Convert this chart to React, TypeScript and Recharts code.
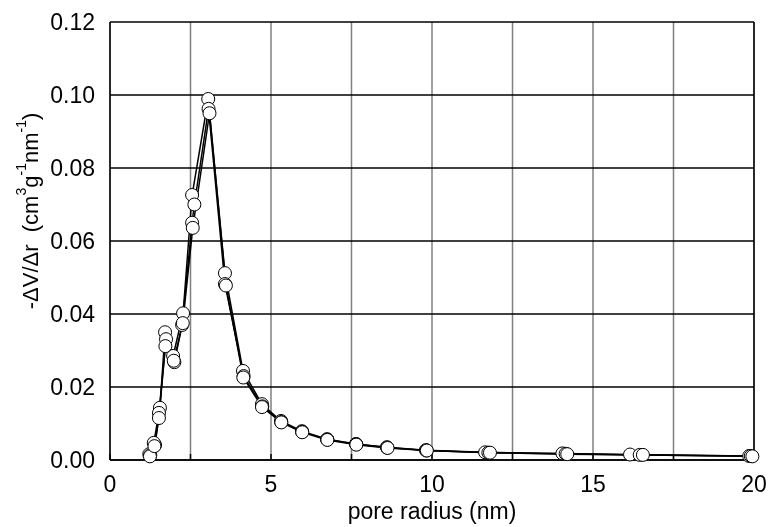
import React from 'react'
import {
  ComposedChart,
  Line,
  XAxis,
  YAxis,
  CartesianGrid,
  ReferenceLine,
} from 'recharts'

// three overlapping measurements of the pore size distribution
const radiusA = [1.22, 1.40, 1.55, 1.71, 1.96, 2.27, 2.55, 3.05, 3.57, 4.13, 4.72, 5.31, 5.96, 6.74, 7.64, 8.60, 9.81, 11.65, 14.05, 16.15, 19.85]
const dvA = [0.0016, 0.0041, 0.0143, 0.0350, 0.0285, 0.0402, 0.0726, 0.0989, 0.0512, 0.0244, 0.0153, 0.0107, 0.0079, 0.0057, 0.0044, 0.0035, 0.0027, 0.0021, 0.0018, 0.0015, 0.0011]

const radiusB = [1.25, 1.36, 1.52, 1.74, 2.00, 2.24, 2.55, 2.62, 3.06, 3.57, 4.15, 4.73, 5.32, 5.97, 6.75, 7.65, 8.61, 9.83, 11.75, 14.15, 16.45, 19.9]
const dvB = [0.0013, 0.0047, 0.0129, 0.0331, 0.0268, 0.0370, 0.0650, 0.0700, 0.0962, 0.0482, 0.0230, 0.0147, 0.0104, 0.0077, 0.0056, 0.0043, 0.0034, 0.0026, 0.0020, 0.0017, 0.0014, 0.0011]

const radiusC = [1.24, 1.38, 1.52, 1.72, 1.98, 2.26, 2.57, 3.09, 3.60, 4.14, 4.72, 5.32, 5.97, 6.75, 7.65, 8.62, 9.84, 11.8, 14.2, 16.55, 19.95]
const dvC = [0.0010, 0.0038, 0.0115, 0.0312, 0.0272, 0.0375, 0.0636, 0.0950, 0.0478, 0.0226, 0.0145, 0.0103, 0.0076, 0.0055, 0.0042, 0.0033, 0.0026, 0.0020, 0.0016, 0.0014, 0.0010]

const xTicks = [0, 2.5, 5, 7.5, 10, 12.5, 15, 17.5, 20]
const yTicks = [0, 0.02, 0.04, 0.06, 0.08, 0.1, 0.12]

const toRows = (xs: number[], ys: number[]) => xs.map((r, i) => ({ r, dv: ys[i] }))

const series = [toRows(radiusA, dvA), toRows(radiusB, dvB), toRows(radiusC, dvC)]

const font = '"Liberation Sans", Arial, sans-serif'

const YLabel = () => {
  const cx = 30
  const cy = 211
  return (
    <text
      x={cx}
      y={cy}
      transform={`rotate(-90, ${cx}, ${cy})`}
      textAnchor="middle"
      dominantBaseline="central"
      fontSize={22}
      fontFamily={font}
      fill="#000"
    >
      <tspan>{'-ΔV/Δr\u00a0\u00a0(cm'}</tspan>
      <tspan fontSize={14} dy={-9}>3</tspan>
      <tspan dy={9}>g</tspan>
      <tspan fontSize={14} dy={-9}>-1</tspan>
      <tspan dy={9}>nm</tspan>
      <tspan fontSize={14} dy={-9}>-1</tspan>
      <tspan dy={9}>)</tspan>
    </text>
  )
}

const XLabel = () => (
  <text x={432} y={519} textAnchor="middle" fontSize={23} fontFamily={font} fill="#000">
    pore radius (nm)
  </text>
)

const App = () => {
  return (
    <div style={{ position: 'fixed', left: 0, top: 0, width: 770, height: 527 }}>
      <ComposedChart
        width={770}
        height={527}
        margin={{ top: 22, right: 16, bottom: 0, left: 0 }}
      >
        <CartesianGrid horizontal={false} stroke="#808080" strokeWidth={1.5} />
        <CartesianGrid vertical={false} stroke="#000" strokeWidth={1.5} />
        <XAxis
          type="number"
          dataKey="r"
          domain={[0, 20]}
          ticks={xTicks}
          tickFormatter={(v: number) => (v % 5 === 0 ? String(v) : '')}
          height={67}
          stroke="#000"
          strokeWidth={1.5}
          tickSize={-6}
          tickMargin={22}
          tick={{ fill: '#000', fontSize: 23, fontFamily: font }}
          allowDuplicatedCategory={false}
          label={<XLabel />}
        />
        <YAxis
          type="number"
          dataKey="dv"
          domain={[0, 0.12]}
          ticks={yTicks}
          tickFormatter={(v: number) => v.toFixed(2)}
          width={110}
          stroke="#000"
          strokeWidth={1.5}
          tickLine={false}
          tickMargin={9}
          tick={{ fill: '#000', fontSize: 23, fontFamily: font }}
          label={<YLabel />}
        />
        <ReferenceLine x={20} stroke="#000" strokeWidth={1.5} />
        {series.map((rows, i) => (
          <Line
            key={i}
            data={rows}
            dataKey="dv"
            type="linear"
            stroke="#000"
            strokeWidth={1.5}
            dot={{ r: 6.5, fill: '#fff', stroke: '#000', strokeWidth: 1 }}
            isAnimationActive={false}
          />
        ))}
      </ComposedChart>
    </div>
  )
}

export default App
